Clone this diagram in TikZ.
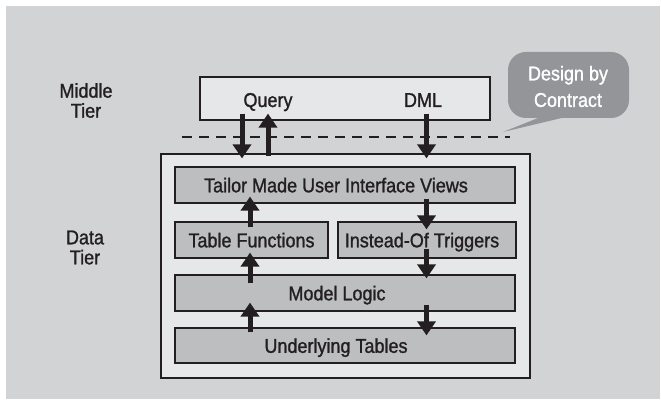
\documentclass[tikz,border=0pt]{standalone}
\usepackage{fontspec}
\setmainfont{Liberation Sans}[FakeStretch=0.9, FakeBold=1.2]
\usetikzlibrary{arrows.meta}
\definecolor{bggray}{HTML}{D2D3D5}
\definecolor{paleface}{HTML}{E6E7E8}
\definecolor{layergray}{HTML}{BCBEC0}
\definecolor{bubblegray}{HTML}{939598}
\definecolor{ink}{HTML}{231F20}
\tikzset{
  lbl/.style={font=\fontsize{20}{20}\selectfont, text=ink, inner sep=0pt, align=center},
  onbase/.style={lbl, anchor=base},
  panel/.style={draw=ink, line width=1.2pt, fill=paleface, inner sep=0pt},
  layer/.style={draw=ink, line width=1.2pt, fill=layergray, inner sep=0pt},
  flow/.style={draw=ink, line width=5pt, -{Triangle[length=14pt,width=18pt]}},
}
\begin{document}
\begin{tikzpicture}[x=1pt,y=-1pt]
\useasboundingbox (0,0) rectangle (661,403);
\fill[bggray] (6,6) rectangle (660,399);

% tier captions
\node[lbl] (midcap) at (86,100.5) {Middle\\Tier};
\node[lbl] (datacap) at (85,247.5) {Data\\Tier};

% middle tier
\node[panel, minimum width=290pt, minimum height=43pt] (mid) at (345,98.5) {};
\node[onbase] (query) at (268,107) {Query};
\node[onbase] (dml) at (423,107) {DML};

% tier boundary
\draw[ink, line width=1.2pt, dash pattern=on 10pt off 7pt] (182,137) coordinate (bndl) -- (510,137) coordinate (bndr);

% contract callout
\fill[bubblegray, rounded corners=18pt] (508,52) rectangle (629,118);
\fill[bubblegray] (543,116) -- (503,132) -- (570,116) -- cycle;
\node[lbl, text=white, font=\fontsize{20}{26.5}\selectfont] (contract) at (568,86.5) {Design by\\Contract};

% data tier
\node[panel, minimum width=369pt, minimum height=224pt] (data) at (345.5,266) {};
\node[layer, minimum width=340pt, minimum height=36pt] (views) at (345,185) {};
\node[onbase] (viewstxt) at ([xshift=-9pt,yshift=-7.3pt]views.center) {Tailor Made User Interface Views};
\node[layer, minimum width=153pt, minimum height=36pt] (tfn) at (251.5,240) {};
\node[onbase] (tfntxt) at ([yshift=-7.3pt]tfn.center) {Table Functions};
\node[layer, minimum width=178pt, minimum height=36pt] (trig) at (427,240) {};
\node[onbase] (trigtxt) at ([xshift=-5pt,yshift=-7.3pt]trig.center) {Instead-Of Triggers};
\node[layer, minimum width=340pt, minimum height=36pt] (logic) at (345,293) {};
\node[onbase] (logictxt) at ([xshift=-8pt,yshift=-7.3pt]logic.center) {Model Logic};
\node[layer, minimum width=340pt, minimum height=35pt] (tables) at (345,345.5) {};
\node[onbase] (tablestxt) at ([xshift=-9pt,yshift=-7.3pt]tables.center) {Underlying Tables};

% arrow columns
\coordinate (qdn) at (242,0);
\coordinate (qup) at (268,0);
\coordinate (colL) at (250,0);
\coordinate (colR) at (426.5,0);

% query and DML traffic
\draw[flow] ([yshift=7pt]mid.south -| qdn) -- ([yshift=-5pt]data.north -| qdn);
\draw[flow] ([yshift=-3pt]data.north -| qup) -- ([yshift=7pt]mid.south -| qup);
\draw[flow] ([yshift=7pt]mid.south -| colR) -- ([yshift=-5pt]data.north -| colR);

% read path (upwards)
\draw[flow] ([yshift=-6pt]tfn.north -| colL) -- ([yshift=7pt]views.south -| colL);
\draw[flow] ([yshift=-9pt]logic.north -| colL) -- ([yshift=6pt]tfn.south -| colL);
\draw[flow] ([yshift=-5pt]tables.north -| colL) -- ([yshift=9pt]logic.south -| colL);

% write path (downwards)
\draw[flow] ([yshift=5pt]views.south -| colR) -- ([yshift=-8pt]trig.north -| colR);
\draw[flow] ([yshift=10pt]trig.south -| colR) -- ([yshift=-4pt]logic.north -| colR);
\draw[flow] ([yshift=7pt]logic.south -| colR) -- ([yshift=-8pt]tables.north -| colR);
\end{tikzpicture}
\end{document}
